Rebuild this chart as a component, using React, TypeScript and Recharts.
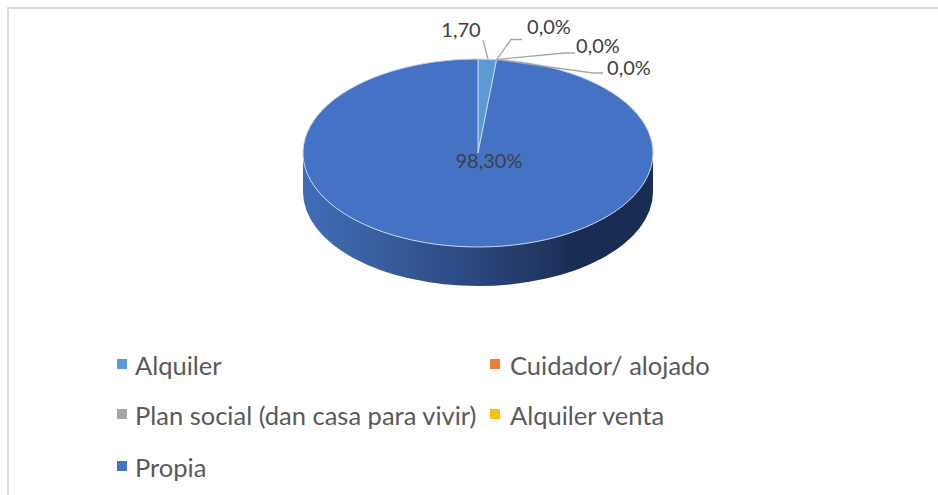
import React from 'react';
import { PieChart, Pie, Cell, Legend } from 'recharts';

const categories = ['Alquiler', 'Cuidador/ alojado', 'Plan social (dan casa para vivir)', 'Alquiler venta', 'Propia'];
const values = [1.7, 0, 0, 0, 98.3];
const valueLabels = ['1,70', '0,0%', '0,0%', '0,0%', '98,30%'];
const colors = ['#5B9BD5', '#ED7D31', '#A5A5A5', '#FFC000', '#4472C4'];

const data = categories.map((name, i) => ({ name, value: values[i] }));

const CX = 478;
const CY = 153;
const RX = 175;
const RY = 94;
const DEPTH = 39;
const RAD = Math.PI / 180;

const pt = (angle: number) => [CX + RX * Math.cos(angle * RAD), CY - RY * Math.sin(angle * RAD)];

// flat pie squeezed into an ellipse, the big slice also draws the side wall
function TiltedSector(props: any) {
  const { startAngle, endAngle, fill } = props;
  const span = Math.abs(startAngle - endAngle);
  if (span === 0) return <g />;
  const [x0, y0] = pt(startAngle);
  const [x1, y1] = pt(endAngle);
  const large = span > 180 ? 1 : 0;
  return (
    <g>
      {span > 180 && (
        <path
          d={`M${CX + RX},${CY} A${RX},${RY} 0 0 1 ${CX - RX},${CY} L${CX - RX},${CY + DEPTH} A${RX},${RY} 0 0 0 ${CX + RX},${CY + DEPTH} Z`}
          fill="url(#wallGrad)"
        />
      )}
      <path
        d={`M${CX},${CY} L${x0},${y0} A${RX},${RY} 0 ${large} 1 ${x1},${y1} Z`}
        fill={fill}
        stroke="#c5d3ec"
        strokeWidth={1}
      />
    </g>
  );
}

// label text + leader line, offsets per slice
const labelLayout = [
  { tx: 461, ty: 29, line: [[483, 40]], from: [488, 59] },
  { tx: 549, ty: 26, line: [[522, 39.5], [511, 39.5]] },
  { tx: 598, ty: 45, line: [[575, 53], [565, 53]] },
  { tx: 629, ty: 67, line: [[603, 73], [593, 73]] },
  { tx: 489, ty: 160, line: [] as number[][] },
];

function SliceLabel(props: any) {
  const { index, midAngle } = props;
  const l = labelLayout[index];
  const anchor = l.from || pt(midAngle);
  const pts = [...l.line, anchor];
  return (
    <g>
      {l.line.length > 0 && (
        <polyline points={pts.map((p) => p.join(',')).join(' ')} fill="none" stroke="#a6a6a6" strokeWidth={1.3} />
      )}
      <text x={l.tx} y={l.ty} textAnchor="middle" dominantBaseline="central" fontFamily="Lato" fontSize={20} fill="#404040">
        {valueLabels[index]}
      </text>
    </g>
  );
}

const legendCols = [117, 490];
const legendTextX = [135, 510];
const legendRows = [365, 415, 467];

function LegendBlock({ payload }: any) {
  return (
    <svg width={938} height={495} style={{ display: 'block' }}>
      {(payload || []).map((item: any, i: number) => {
        const col = i % 2;
        const y = legendRows[Math.floor(i / 2)];
        return (
          <g key={item.value}>
            <rect x={legendCols[col]} y={y - 6} width={10} height={10} fill={colors[i]} />
            <text x={legendTextX[col]} y={y} dominantBaseline="central" fontFamily="Lato" fontSize={25.5} fill="#595959">
              {item.value}
            </text>
          </g>
        );
      })}
    </svg>
  );
}

export default function App() {
  return (
    <div style={{ position: 'absolute', left: 0, top: 0, width: 938, height: 495, background: '#fff', overflow: 'hidden' }}>
      <div style={{ position: 'absolute', left: 7, top: 7, width: 1000, height: 600, borderLeft: '2px solid #d9d9d9', borderTop: '2px solid #d9d9d9' }} />
      <PieChart width={938} height={495} margin={{ top: 0, right: 0, bottom: 0, left: 0 }} style={{ position: 'absolute', left: 0, top: 0 }}>
        <defs>
          <linearGradient id="wallGrad" x1="0" y1="0" x2="1" y2="0">
            <stop offset="0%" stopColor="#406db8" />
            <stop offset="20%" stopColor="#3a5fa1" />
            <stop offset="50%" stopColor="#2a467c" />
            <stop offset="68%" stopColor="#213763" />
            <stop offset="78%" stopColor="#182b50" />
            <stop offset="100%" stopColor="#1a2e54" />
          </linearGradient>
        </defs>
        <Pie
          data={data}
          dataKey="value"
          nameKey="name"
          cx={CX}
          cy={CY}
          outerRadius={RX}
          startAngle={90}
          endAngle={-270}
          paddingAngle={0}
          stroke="none"
          shape={TiltedSector}
          label={SliceLabel}
          labelLine={false}
          isAnimationActive={false}
        >
          {data.map((entry, index) => (
            <Cell key={`cell-${index}`} fill={colors[index]} />
          ))}
        </Pie>
        <Legend
          content={<LegendBlock />}
          itemSorter={null}
          wrapperStyle={{ left: 0, top: 0, bottom: 'auto', width: 938, height: 495, margin: 0 }}
        />
      </PieChart>
    </div>
  );
}
